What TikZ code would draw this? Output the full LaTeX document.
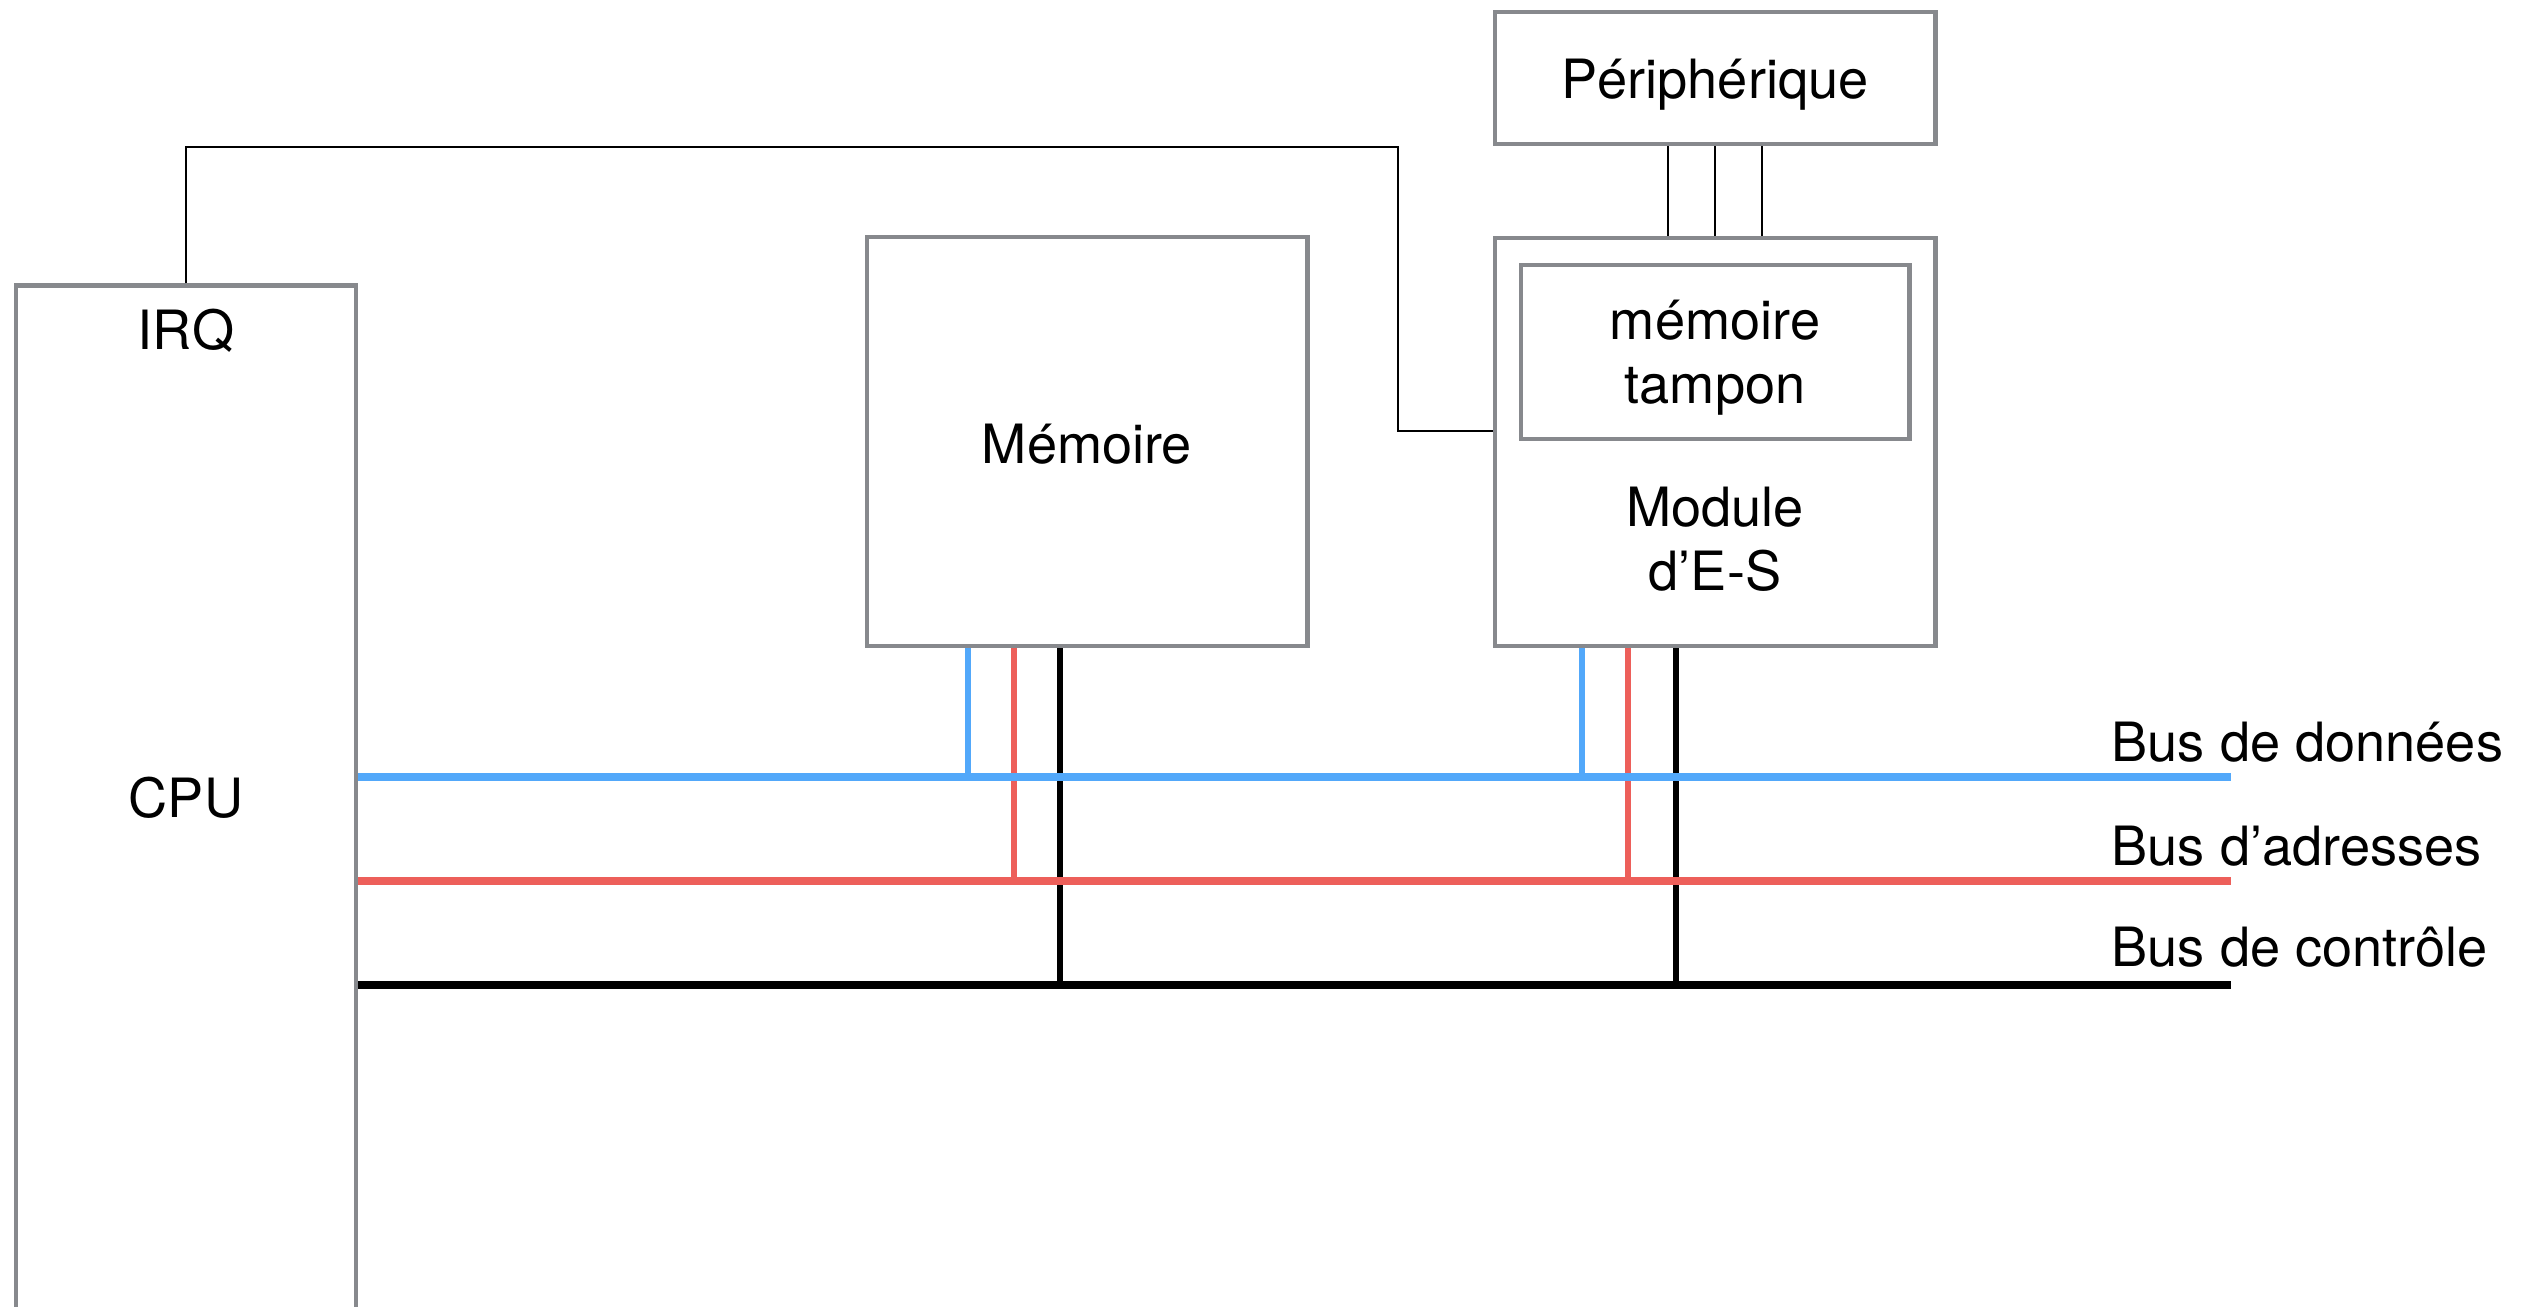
\documentclass[tikz,border=0pt]{standalone}
\usepackage{fontspec}
\setmainfont{TeX Gyre Heros}
\usetikzlibrary{calc}
\definecolor{boxgrey}{RGB}{135,137,141}
\definecolor{databus}{RGB}{82,168,250}
\definecolor{addrbus}{RGB}{237,95,90}
\begin{document}
\begin{tikzpicture}[x=0.01cm,y=-0.01cm,
  font=\fontsize{15.4}{18}\selectfont,
  unit/.style={draw=boxgrey,line width=1.34pt,inner sep=0pt,fill=none},
  lbl/.style={inner sep=0pt,text=black},
  link/.style={draw=black,line width=0.77pt},
  tapline/.style={line width=1.45pt},
  busline/.style={line width=2.1pt}]
\useasboundingbox (0,0) rectangle (2522,1306);

% units
\node[unit,minimum width=3.40cm,minimum height=10.54cm] (cpu) at (186,813) {};
\node[lbl,anchor=base] (irq) at (186,349) {IRQ};
\node[lbl,anchor=base] (cputxt) at (186,817) {CPU};

\node[unit,minimum width=4.40cm,minimum height=4.09cm] (mem) at (1087,441.5) {};
\node[lbl,anchor=base] (memtxt) at (1087,463) {Mémoire};

\node[unit,minimum width=4.40cm,minimum height=4.08cm] (mod) at (1715,442) {};
\node[unit,minimum width=3.88cm,minimum height=1.74cm] (buf) at (1715,352) {};
\node[lbl,anchor=base] (buf1) at (1715,339) {mémoire};
\node[lbl,anchor=base] (buf2) at (1715,403) {tampon};
\node[lbl,anchor=base] (mod1) at (1715,526) {Module};
\node[lbl,anchor=base] (mod2) at (1715,590) {d’E-S};

\node[unit,minimum width=4.40cm,minimum height=1.32cm] (per) at (1715,78) {};
\node[lbl,anchor=base] (pertxt) at (1715,98) {Périphérique};

% peripheral link
\foreach \dx in {-47,0,47}
  \draw[link] ($(per.south)+(\dx,0)$) -- ($(mod.north)+(\dx,0)$);

% interrupt line
\coordinate (irqtop) at (1398,147);
\coordinate (irqbend) at (1398,431);
\draw[link] (cpu.north) |- (irqtop) -- (irqbend) -- (irqbend -| mod.west);

% bus ends and taps
\coordinate (dR) at (2231,777);
\coordinate (aR) at (2231,881);
\coordinate (cR) at (2231,985);
\coordinate (md) at (968,777);
\coordinate (ma) at (1014,881);
\coordinate (mc) at (1060,985);
\coordinate (od) at (1582,777);
\coordinate (oa) at (1628,881);
\coordinate (oc) at (1676,985);

\draw[tapline,databus] (mem.south -| md) -- (md);
\draw[tapline,addrbus] (mem.south -| ma) -- (ma);
\draw[tapline,black]   (mem.south -| mc) -- (mc);
\draw[tapline,databus] (mod.south -| od) -- (od);
\draw[tapline,addrbus] (mod.south -| oa) -- (oa);
\draw[tapline,black]   (mod.south -| oc) -- (oc);

\draw[busline,databus] (cpu.east |- dR) -- (dR);
\draw[busline,addrbus] (cpu.east |- aR) -- (aR);
\draw[busline,black]   (cpu.east |- cR) -- (cR);

\node[lbl,anchor=base west] (dlab) at (2111,761) {Bus de données};
\node[lbl,anchor=base west] (alab) at (2111,865) {Bus d’adresses};
\node[lbl,anchor=base west] (clab) at (2111,966) {Bus de contrôle};
\end{tikzpicture}
\end{document}
